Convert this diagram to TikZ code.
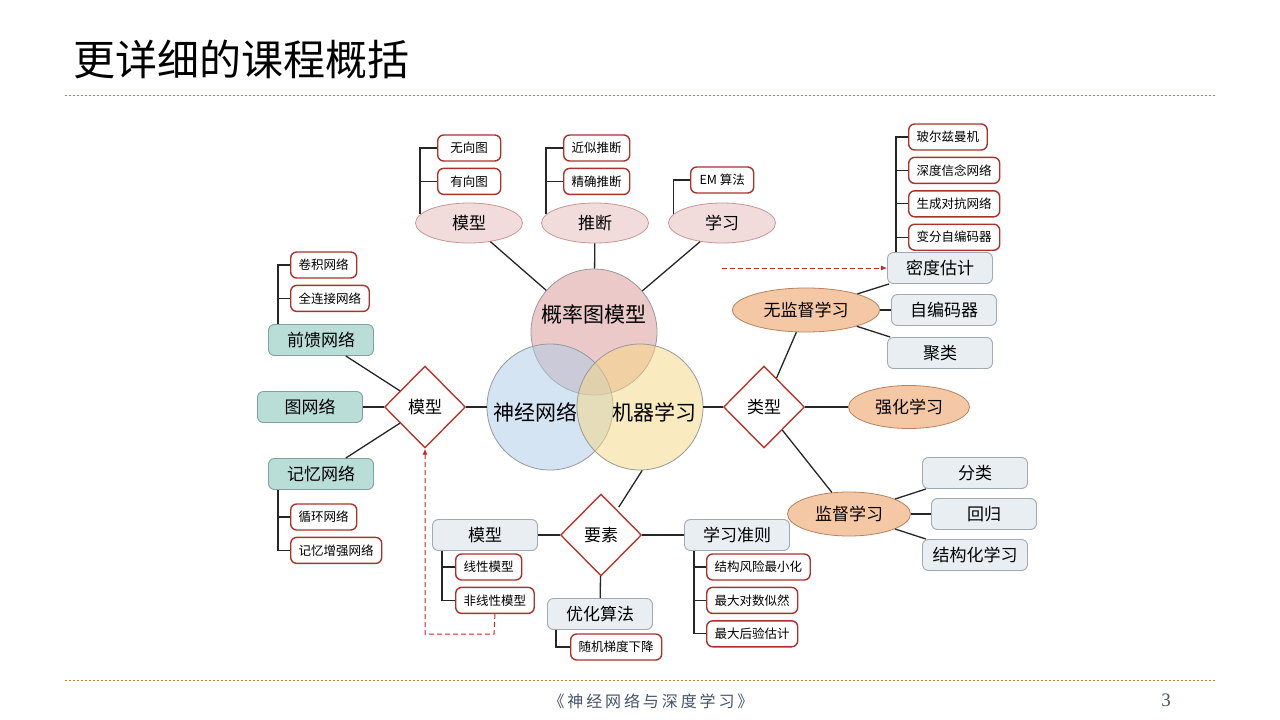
\documentclass[tikz,border=0pt]{standalone}
\usepackage{fontspec}
\setmainfont{Noto Sans CJK SC}
\newfontfamily\footfont[LetterSpace=18]{Noto Sans CJK SC}
\newfontfamily\numfont{Liberation Serif}
\usetikzlibrary{positioning,arrows.meta,shapes.geometric}
\definecolor{LeafRed}{RGB}{170,50,45}
\definecolor{HubRed}{RGB}{185,55,45}
\definecolor{GrayFill}{RGB}{232,238,242}
\definecolor{GrayLine}{RGB}{160,170,178}
\definecolor{TealFill}{RGB}{185,222,216}
\definecolor{TealLine}{RGB}{130,160,158}
\definecolor{PinkFill}{RGB}{242,220,219}
\definecolor{PinkLine}{RGB}{200,150,150}
\definecolor{OrangeFill}{RGB}{245,200,165}
\definecolor{OrangeLine}{RGB}{185,130,95}
\definecolor{VennPink}{RGB}{219,149,149}
\definecolor{VennBlue}{RGB}{171,203,231}
\definecolor{VennYellow}{RGB}{247,215,129}
\definecolor{RuleOrange}{RGB}{200,120,60}
\definecolor{FootBlue}{RGB}{68,84,106}
\definecolor{DashRed}{RGB}{200,40,40}

\begin{document}
\begin{tikzpicture}[x=1pt,y=-1pt,
link/.style={draw=black!85,line width=1.3pt},
leaf/.style={rectangle,rounded corners=6pt,draw=LeafRed,line width=1.4pt,fill=white,
minimum width=63pt,minimum height=26pt,inner xsep=8pt,inner ysep=0pt,font=\fontsize{12.5}{14}\selectfont},
graybox/.style={rectangle,rounded corners=6pt,draw=GrayLine,line width=0.9pt,fill=GrayFill,
minimum width=105pt,minimum height=31pt,inner sep=0pt,font=\fontsize{17}{20}\selectfont},
tealbox/.style={graybox,draw=TealLine,fill=TealFill},
pinkell/.style={ellipse,draw=PinkLine,line width=0.8pt,fill=PinkFill,
minimum width=107pt,minimum height=40pt,inner sep=0pt,font=\fontsize{17}{20}\selectfont},
orangeell/.style={pinkell,draw=OrangeLine,fill=OrangeFill,minimum height=44pt},
hub/.style={diamond,draw=HubRed,line width=1.4pt,fill=white,minimum width=81pt,
minimum height=82pt,inner sep=0pt,font=\fontsize{17}{20}\selectfont},
venn/.style={circle,draw=black!40,line width=0.8pt,fill opacity=0.5,minimum size=126pt,inner sep=0pt},
venntext/.style={font=\fontsize{21}{24}\selectfont,inner sep=0pt},
rule/.style={draw=RuleOrange,line width=1pt,dash pattern=on 2pt off 2pt},
dasharrow/.style={draw=DashRed,line width=1pt,dash pattern=on 5pt off 3pt,-{Latex[length=6pt,width=5pt]}}
]
\path[fill=white,use as bounding box] (0,0) rectangle (1280,720);

% title and page frame
\node[anchor=west,inner sep=0pt,font=\fontsize{42}{46}\selectfont] (title) at (73,60) {更详细的课程概括};
\draw[rule] (65,95) -- (1215,95);
\draw[rule] (65,680) -- (1215,680);
\node[text=FootBlue,font=\footfont\fontsize{16}{18}\selectfont] (book) at (651,701) {《神经网络与深度学习》};
\node[text=FootBlue,font=\numfont\fontsize{19}{20}\selectfont] (page) at (1166,700) {3};

% venn
\node[venn,fill=VennPink] (pgm) at (594,332) {};
\node[venn,fill=VennBlue] (nn) at (550,407) {};
\node[venn,fill=VennYellow] (ml) at (640,407) {};
\node[venntext] (pgmlabel) at (594,314) {概率图模型};
\node[venntext] (nnlabel) at (535,412) {神经网络};
\node[venntext] (mllabel) at (654,412) {机器学习};

% probabilistic graphical models
\node[pinkell] (pgmmodel) at (469,223) {模型};
\node[pinkell] (pgminfer) at (595,223) {推断};
\node[pinkell] (pgmlearn) at (722,223) {学习};
\node[leaf,anchor=west] (wuxiang) at (437,148) {无向图};
\node[leaf,below=6pt of wuxiang.south west,anchor=north west] (youxiang) {有向图};
\node[leaf,anchor=west] (jinsi) at (563,148) {近似推断};
\node[leaf,below=6pt of jinsi.south west,anchor=north west] (jingque) {精确推断};
\node[leaf,anchor=west] (emalg) at (690,180) {EM 算法};
\draw[link] (pgmmodel) -- (pgm);
\draw[link] (pgminfer) -- (pgm);
\draw[link] (pgmlearn) -- (pgm);
\draw[link] (wuxiang.west) -| (pgmmodel.170);
\draw[link] (youxiang.west) -| (pgmmodel.170);
\draw[link] (jinsi.west) -| (pgminfer.170);
\draw[link] (jingque.west) -| (pgminfer.170);
\draw[link] (emalg.west) -| (pgmlearn.170);

% machine learning types
\node[hub] (leixing) at (764,407) {类型};
\node[orangeell,minimum width=147pt] (unsup) at (806,310) {无监督学习};
\node[orangeell,minimum width=121pt,minimum height=43pt] (qianghua) at (909,407) {强化学习};
\node[orangeell,minimum width=123pt] (sup) at (849,514) {监督学习};
\node[graybox] (midu) at (940,268) {密度估计};
\node[graybox] (zibian) at (944,310) {自编码器};
\node[graybox] (julei) at (940,353) {聚类};
\node[graybox] (fenlei) at (975,473) {分类};
\node[graybox] (huigui) at (984,514) {回归};
\node[graybox] (jiegouhua) at (975,555) {结构化学习};
\node[leaf,anchor=west] (boltz) at (908,137) {玻尔兹曼机};
\node[leaf,below=6pt of boltz.south west,anchor=north west] (dbn) {深度信念网络};
\node[leaf,below=6pt of dbn.south west,anchor=north west] (gan) {生成对抗网络};
\node[leaf,below=6pt of gan.south west,anchor=north west] (vae) {变分自编码器};
\draw[link] (ml) -- (leixing);
\draw[link] (leixing) -- (unsup);
\draw[link] (leixing) -- (qianghua);
\draw[link] (leixing) -- (sup);
\draw[link] (unsup) -- (midu);
\draw[link] (unsup) -- (zibian);
\draw[link] (unsup) -- (julei);
\draw[link] (sup) -- (fenlei);
\draw[link] (sup) -- (huigui);
\draw[link] (sup) -- (jiegouhua);
\foreach \n in {boltz,dbn,gan,vae}
  \draw[link] (\n.west) -| ([xshift=9pt]midu.north west);

% neural network models
\node[hub] (mxd) at (425,407) {模型};
\node[tealbox] (qiankui) at (321,340) {前馈网络};
\node[tealbox] (tuwang) at (310,407) {图网络};
\node[tealbox] (jiyi) at (321,474) {记忆网络};
\node[leaf,anchor=west] (juanji) at (290,265) {卷积网络};
\node[leaf,below=6pt of juanji.south west,anchor=north west] (quanlian) {全连接网络};
\node[leaf,anchor=west] (xunhuan) at (290,517) {循环网络};
\node[leaf,below=6pt of xunhuan.south west,anchor=north west] (zengqiang) {记忆增强网络};
\draw[link] (nn) -- (mxd);
\draw[link] (mxd) -- (qiankui);
\draw[link] (mxd) -- (tuwang);
\draw[link] (mxd) -- (jiyi);
\draw[link] (juanji.west) -| ([xshift=10pt]qiankui.north west);
\draw[link] (quanlian.west) -| ([xshift=10pt]qiankui.north west);
\draw[link] (xunhuan.west) -| ([xshift=10pt]jiyi.south west);
\draw[link] (zengqiang.west) -| ([xshift=10pt]jiyi.south west);

% elements
\node[hub] (yaosu) at (601,535) {要素};
\node[graybox] (bmodel) at (485,535) {模型};
\node[graybox] (zhunze) at (737,535) {学习准则};
\node[graybox] (youhua) at (600,614) {优化算法};
\node[leaf,anchor=west] (xianxing) at (455,567) {线性模型};
\node[leaf,below=6pt of xianxing.south west,anchor=north west] (feixian) {非线性模型};
\node[leaf,anchor=west] (jiegou) at (706,567) {结构风险最小化};
\node[leaf,below=6pt of jiegou.south west,anchor=north west] (duishu) {最大对数似然};
\node[leaf,below=6pt of duishu.south west,anchor=north west] (houyan) {最大后验估计};
\node[leaf,anchor=west] (suiji) at (570,647) {随机梯度下降};
\draw[link,shorten >=3pt] (ml.-88) -- (yaosu);
\draw[link] (yaosu) -- (bmodel);
\draw[link] (yaosu) -- (zhunze);
\draw[link] (yaosu) -- (youhua);
\draw[link] (xianxing.west) -| ([xshift=10pt]bmodel.south west);
\draw[link] (feixian.west) -| ([xshift=10pt]bmodel.south west);
\foreach \n in {jiegou,duishu,houyan}
  \draw[link] (\n.west) -| ([xshift=10pt]zhunze.south west);
\draw[link] (suiji.west) -| ([xshift=9pt]youhua.south west);

% cross links
\coordinate (dashcorner) at (494,634);
\coordinate (dashstart) at (722,268);
\draw[dasharrow] (feixian.south) -- (dashcorner) -| (mxd.south);
\draw[dasharrow] (dashstart) -- (midu.west);
\end{tikzpicture}
\end{document}
